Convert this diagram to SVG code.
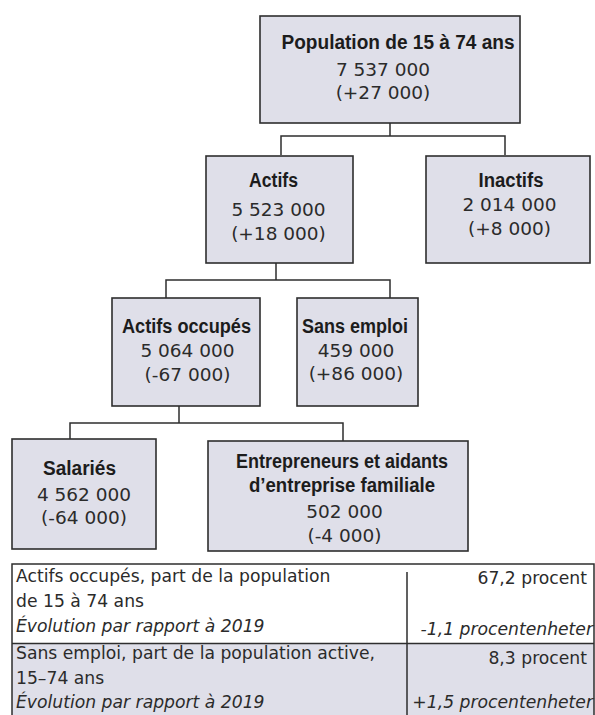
<svg xmlns="http://www.w3.org/2000/svg" width="595" height="715" viewBox="0 0 595 715">
<style>
.box{fill:#dfdfe9;stroke:#2e2e2e;stroke-width:1.6}
.ln{fill:none;stroke:#2e2e2e;stroke-width:1.5}
.b{font-family:"Liberation Sans",Arial,sans-serif;font-weight:bold;font-size:20px;fill:#1c1c1c;text-anchor:middle}
.n{font-family:"DejaVu Sans",sans-serif;font-size:18.5px;fill:#2b2b2b;text-anchor:middle}
.t{font-family:"DejaVu Sans",sans-serif;font-size:17.2px;fill:#2b2b2b}
.i{font-style:italic}
.r{text-anchor:end}
</style>
<rect width="595" height="715" fill="#ffffff"/>
<g id="connectors">
<path class="ln" d="M390,123V136M281,155V136H505V155"/>
<path class="ln" d="M276,263V280M166,298V280H390V298"/>
<path class="ln" d="M179,406V423M70,439V423H343V441"/>
</g>
<g id="population">
<rect class="box" x="260" y="16" width="260" height="107"/>
<text class="b" x="398" y="49" textLength="233" lengthAdjust="spacingAndGlyphs">Population de 15 à 74 ans</text>
<text class="n" x="383" y="76">7 537 000</text>
<text class="n" x="383" y="99">(+27 000)</text>
</g>
<g id="actifs">
<rect class="box" x="206" y="156" width="147" height="107"/>
<text class="b" x="273.5" y="187" textLength="49" lengthAdjust="spacingAndGlyphs">Actifs</text>
<text class="n" x="278.5" y="216">5 523 000</text>
<text class="n" x="278.5" y="240">(+18 000)</text>
</g>
<g id="inactifs">
<rect class="box" x="426" y="156" width="164" height="107"/>
<text class="b" x="511" y="187" textLength="65" lengthAdjust="spacingAndGlyphs">Inactifs</text>
<text class="n" x="509.5" y="211">2 014 000</text>
<text class="n" x="509.5" y="235">(+8 000)</text>
</g>
<g id="actifs-occupes">
<rect class="box" x="112" y="298" width="148" height="108"/>
<text class="b" x="186.5" y="333" textLength="129" lengthAdjust="spacingAndGlyphs">Actifs occupés</text>
<text class="n" x="187.5" y="357">5 064 000</text>
<text class="n" x="187.5" y="381">(-67 000)</text>
</g>
<g id="sans-emploi">
<rect class="box" x="297" y="298" width="121" height="108"/>
<text class="b" x="355" y="333" textLength="106" lengthAdjust="spacingAndGlyphs">Sans emploi</text>
<text class="n" x="356" y="357">459 000</text>
<text class="n" x="356" y="380">(+86 000)</text>
</g>
<g id="salaries">
<rect class="box" x="12" y="439" width="144" height="110"/>
<text class="b" x="79.5" y="475" textLength="73" lengthAdjust="spacingAndGlyphs">Salariés</text>
<text class="n" x="84" y="501">4 562 000</text>
<text class="n" x="84" y="524">(-64 000)</text>
</g>
<g id="entrepreneurs">
<rect class="box" x="208" y="441" width="260" height="110"/>
<text class="b" x="342" y="468" textLength="212" lengthAdjust="spacingAndGlyphs">Entrepreneurs et aidants</text>
<text class="b" x="342" y="492" textLength="186" lengthAdjust="spacingAndGlyphs">d’entreprise familiale</text>
<text class="n" x="344.5" y="518">502 000</text>
<text class="n" x="344.5" y="542">(-4 000)</text>
</g>
<g id="table">
<rect x="12" y="643.5" width="582" height="80" fill="#dfdfe9"/>
<text class="t" x="16" y="582">Actifs occupés, part de la population</text>
<text class="t" x="16" y="607">de 15 à 74 ans</text>
<text class="t i" x="16" y="632">Évolution par rapport à 2019</text>
<text class="t r" x="587" y="584">67,2 procent</text>
<text class="t i r" x="593" y="635">-1,1 procentenheter</text>
<text class="t" x="16" y="659">Sans emploi, part de la population active,</text>
<text class="t" x="16" y="684">15–74 ans</text>
<text class="t i" x="16" y="708">Évolution par rapport à 2019</text>
<text class="t r" x="587" y="664">8,3 procent</text>
<text class="t i r" x="593" y="708">+1,5 procentenheter</text>
<path class="ln" d="M12,720V564H594V720M12,643.5H594M407,572V720"/>
</g>
</svg>
